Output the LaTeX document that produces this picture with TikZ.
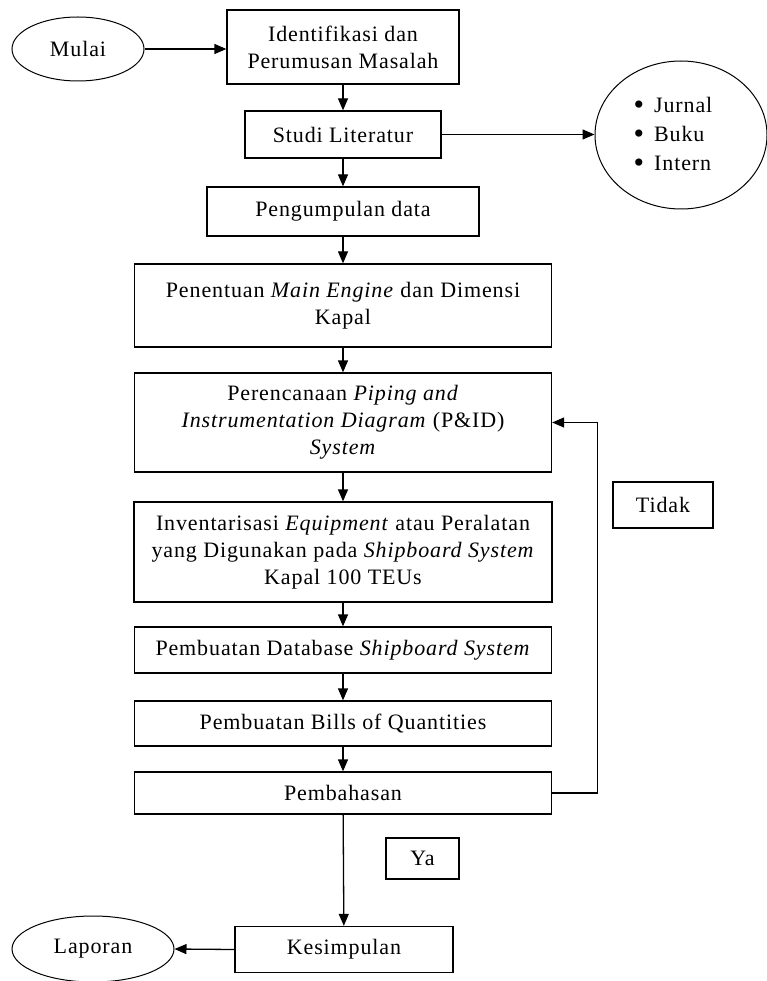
\documentclass[tikz,border=0pt]{standalone}
\usepackage{fontspec}
\setmainfont[LetterSpace=4]{Liberation Serif}
\usetikzlibrary{shapes.geometric,arrows.meta}
\newcommand{\titik}{\raisebox{-1.5pt}{\fontsize{30}{0}\selectfont\textbullet}\hspace{10pt}}
\tikzset{
  proses/.style={draw, line width=1.3pt, inner sep=2pt, align=center},
  oval/.style={draw, ellipse, line width=1pt, inner sep=0pt, align=left},
  panah/.style={line width=1.3pt, -{Triangle[length=12pt,width=10pt]}},
}
\begin{document}
\begin{tikzpicture}[x=1pt,y=-1pt, font=\fontsize{22}{27}\selectfont]
  \useasboundingbox (0,0) rectangle (767,981);
  % Start, problem and literature
  \node[oval, minimum width=132, minimum height=64] (mulai) at (78,49) {Mulai};
  \node[proses, minimum width=232, minimum height=74] (ident) at (343,47)
    {Identifikasi dan\\Perumusan Masalah};
  \node[proses, minimum width=196, minimum height=47] (studi) at (343,134.5) {Studi Literatur};
  \node[oval, minimum width=172, minimum height=148] (pustaka) at (681,135) {};
  \node[align=left, inner sep=0pt] (daftar) at ([xshift=-8pt]pustaka.center)
    {\titik Jurnal\\[2pt]\titik Buku\\[2pt]\titik Intern};
  \node[proses, minimum width=272, minimum height=49] (data) at (343,211.5) {Pengumpulan data};
  % Main steps
  \node[proses, minimum width=417, minimum height=83] (engine) at (343,305.5)
    {Penentuan \textit{Main Engine} dan Dimensi\\Kapal};
  \node[proses, minimum width=417, minimum height=99] (pid) at (343,422.5)
    {Perencanaan \textit{Piping and}\\\textit{Instrumentation Diagram} (P\&ID)\\\textit{System}};
  \node[proses, minimum width=418, minimum height=100] (inventaris) at (343,552)
    {Inventarisasi \textit{Equipment} atau Peralatan\\yang Digunakan pada \textit{Shipboard System}\\Kapal 100 TEUs};
  \node[proses, minimum width=417, minimum height=46] (database) at (343,650)
    {Pembuatan Database \textit{Shipboard System}};
  \node[proses, minimum width=417, minimum height=45] (boq) at (343,723.5)
    {Pembuatan Bills of Quantities};
  \node[proses, minimum width=417, minimum height=42] (bahas) at (343,793) {Pembahasan};
  \node[proses, minimum width=218, minimum height=46] (simpul) at (344,949.5) {Kesimpulan};
  \node[oval, minimum width=162, minimum height=66] (laporan) at (93,949) {Laporan};
  % Decision labels
  \node[proses, minimum width=100, minimum height=46] (tidak) at (663,505) {Tidak};
  \node[proses, minimum width=73, minimum height=41] (ya) at (422.5,858.5) {Ya};
  % Connectors
  \draw[panah] (mulai.east) -- (mulai.east -| ident.west);
  \draw[panah] (studi.east) -- (studi.east -| pustaka.west);
  \draw[panah] (ident) -- (studi);
  \draw[panah] (studi) -- (data);
  \draw[panah] (data) -- (engine);
  \draw[panah] (engine) -- (pid);
  \draw[panah] (pid) -- (inventaris);
  \draw[panah] (inventaris) -- (database);
  \draw[panah] (database) -- (boq);
  \draw[panah] (boq) -- (bahas);
  \draw[panah] (bahas.east) -- ++(45,0) |- (pid.east);
  \draw[panah] (bahas) -- (simpul);
  \draw[panah] (simpul.west) -- (laporan.east);
\end{tikzpicture}
\end{document}
